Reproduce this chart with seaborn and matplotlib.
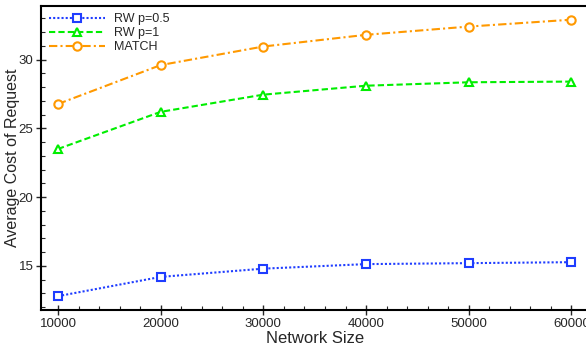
import matplotlib
matplotlib.use("Agg")
import matplotlib.pyplot as plt
import seaborn as sns
import pandas as pd
from matplotlib.ticker import MultipleLocator

sizes = [10000, 20000, 30000, 40000, 50000, 60000]
rw05 = [12.8, 14.2, 14.8, 15.13, 15.2, 15.27]
rw1 = [23.5, 26.2, 27.45, 28.1, 28.35, 28.4]
match = [26.77, 29.6, 30.95, 31.8, 32.4, 32.9]
series_names = ["RW p=0.5", "RW p=1", "MATCH"]

df = pd.DataFrame({
    "size": sizes * 3,
    "cost": rw05 + rw1 + match,
    "series": sum([[n] * len(sizes) for n in series_names], []),
})

sns.set_style("ticks")
plt.rcParams["font.family"] = ["Liberation Sans", "DejaVu Sans"]

fig = plt.figure(figsize=(5.86, 3.49), dpi=100)
ax = fig.add_axes([0.070, 0.112, 0.935, 0.871])

colors = {"RW p=0.5": "#1f3dff", "RW p=1": "#00ee00", "MATCH": "#ff9900"}
markers = {"RW p=0.5": "s", "RW p=1": "^", "MATCH": "o"}
dashes = {"RW p=0.5": (1, 1), "RW p=1": (3, 1.5), "MATCH": (4, 1.5, 1, 1.5)}

for name in series_names:
    sub = df[df["series"] == name]
    sns.lineplot(data=sub, x="size", y="cost", ax=ax, color=colors[name],
                 marker=markers[name], markersize=6, markerfacecolor="white",
                 markeredgecolor=colors[name], markeredgewidth=1.5,
                 linewidth=1.5, dashes=False, label=name)
    ax.lines[-1].set_dashes(dashes[name])

ax.set_xlim(8350, 61700)
ax.set_ylim(11.8, 33.9)
ax.set_xticks(sizes)
ax.set_xticklabels([str(s) for s in sizes])
ax.set_yticks([15, 20, 25, 30])
ax.xaxis.set_minor_locator(MultipleLocator(2000))
ax.yaxis.set_minor_locator(MultipleLocator(1))
ax.tick_params(axis="both", which="major", direction="inout", length=7, width=1, labelsize=9.5)
ax.tick_params(axis="both", which="minor", direction="in", length=3, width=0.8)
ax.tick_params(axis="x", pad=2)
ax.tick_params(axis="y", pad=2)
for s in ax.spines.values():
    s.set_linewidth(1.5)
    s.set_color("black")

ax.set_xlabel("Network Size", fontsize=12, labelpad=1)
ax.set_ylabel("Average Cost of Request", fontsize=11.5)
ax.yaxis.set_label_coords(-0.038, 0.5)

leg = ax.legend(loc="upper left", frameon=False, fontsize=9, handlelength=4.5,
                borderaxespad=0.6, labelspacing=0.15, handletextpad=0.7,
                borderpad=0.0)

fig.savefig("out.png", dpi=100)
